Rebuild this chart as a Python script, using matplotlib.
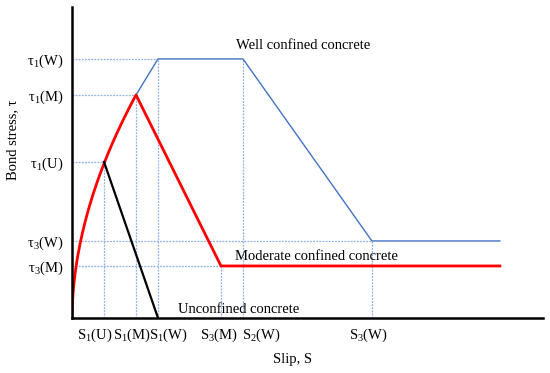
import matplotlib.pyplot as plt
import numpy as np

plt.rcParams['font.family'] = ['Liberation Serif', 'DejaVu Serif']
plt.rcParams['mathtext.fontset'] = 'custom'
plt.rcParams['mathtext.rm'] = 'Liberation Serif'

# slip values (arbitrary units)
s1_u, s1_m, s1_w = 32, 64, 86
s3_m, s2_w, s3_w = 149, 171, 300
s_end = 428
# bond stress values
t1_w, t1_m, t1_u = 259, 223, 156
t3_w, t3_m = 77, 52
alpha = 0.53

x_ticks = [s1_u, s1_m, s1_w, s3_m, s2_w, s3_w]
x_labels = ['S$_1$(U)', 'S$_1$(M)', 'S$_1$(W)', 'S$_3$(M)', 'S$_2$(W)', 'S$_3$(W)']
x_label_pos = [23, 59.5, 96, 147, 189, 296]  # labels sit slightly off their lines
y_ticks = [t1_w, t1_m, t1_u, t3_w, t3_m]
y_labels = ['τ$_1$(W)', 'τ$_1$(M)', 'τ$_1$(U)', 'τ$_3$(W)', 'τ$_3$(M)']

fs = 10.5

fig = plt.figure(figsize=(5.5, 3.73), dpi=100)
ax = fig.add_axes([0.131, 0.1475, 0.856, 0.834])
ax.set_xlim(0, 471)
ax.set_ylim(0, 311)

guide = dict(color='#8fb0e8', lw=0.9, ls=(0, (1.5, 1)))
# horizontal guides
ax.plot([0, s1_w], [t1_w, t1_w], **guide)
ax.plot([0, s1_m], [t1_m, t1_m], **guide)
ax.plot([0, s1_u], [t1_u, t1_u], **guide)
ax.plot([0, s3_w], [t3_w, t3_w], **guide)
ax.plot([0, s3_m], [t3_m, t3_m], **guide)
# vertical guides
for s, t in zip(x_ticks, [t1_u, t1_m, t1_w, t3_m, t1_w, t3_w]):
    ax.plot([s, s], [0, t], **guide)

# well confined
ax.plot([s1_m, s1_w, s2_w, s3_w, s_end], [t1_m, t1_w, t1_w, t3_w, t3_w],
        color='#4472c4', lw=1.0)

# moderate confined
s_asc = np.linspace(0, s1_m, 200)
t_asc = t1_m * (s_asc / s1_m) ** alpha
ax.plot(np.r_[s_asc, s3_m, s_end], np.r_[t_asc, t3_m, t3_m], color='#ff0000', lw=2)

# unconfined
ax.plot([s1_u, s1_w], [t1_u, 0], color='black', lw=1.6)

ax.text(164, 272, 'Well confined concrete', fontsize=fs, va='center')
ax.text(163, 61, 'Moderate confined concrete', fontsize=fs, va='center')
ax.text(106, 8, 'Unconfined concrete', fontsize=fs, va='center')

ax.set_xticks(x_ticks)
ax.set_xticklabels([])
trans = ax.get_xaxis_transform()
for xp, lab in zip(x_label_pos, x_labels):
    ax.text(xp, -0.055, lab, transform=trans, ha='center', va='center', fontsize=fs)
ax.set_yticks(y_ticks)
ax.set_yticklabels(y_labels, fontsize=fs)
ax.tick_params(length=0, pad=6)
ax.set_xlabel('Slip, S', fontsize=fs, va='center')
ax.xaxis.set_label_coords(0.469, -0.135)
ax.set_ylabel('Bond stress, τ', fontsize=fs, va='center')
ax.yaxis.set_label_coords(-0.127, 0.572)

for side in ['top', 'right']:
    ax.spines[side].set_visible(False)
for side in ['left', 'bottom']:
    ax.spines[side].set_linewidth(1.8)

fig.savefig('out.png', dpi=100)
